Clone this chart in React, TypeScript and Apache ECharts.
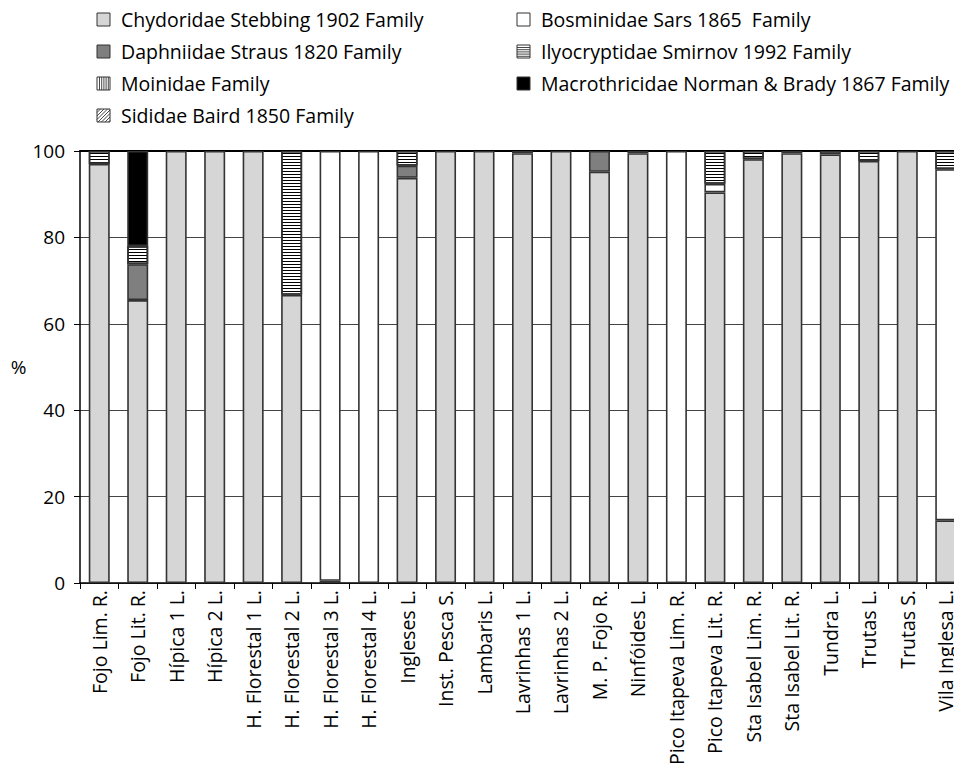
import React, { useEffect, useRef } from "react";
import * as echarts from "echarts";

const FONT = '"Open Sans", "Noto Sans", sans-serif';

const categories = [
  "Fojo Lim. R.",
  "Fojo Lit. R.",
  "Hípica 1 L.",
  "Hípica 2 L.",
  "H. Florestal 1 L.",
  "H. Florestal 2 L.",
  "H. Florestal 3 L.",
  "H. Florestal 4 L.",
  "Ingleses L.",
  "Inst. Pesca S.",
  "Lambaris L.",
  "Lavrinhas 1 L.",
  "Lavrinhas 2 L.",
  "M. P. Fojo R.",
  "Ninfóides L.",
  "Pico Itapeva Lim. R.",
  "Pico Itapeva Lit. R.",
  "Sta Isabel Lim. R.",
  "Sta Isabel Lit. R.",
  "Tundra L.",
  "Trutas L.",
  "Trutas S.",
  "Vila Inglesa L.",
];

const chydoridae = [97, 65.5, 100, 100, 100, 66.7, 0.5, 0, 93.8, 100, 100, 99.5, 100, 95.2, 99.5, 0, 90.4, 98.1, 99.5, 99.2, 97.7, 100, 14.5];
const bosminidae = [0, 0, 0, 0, 0, 0, 99.5, 100, 0, 0, 0, 0, 0, 0, 0, 100, 2.0, 0, 0, 0, 0, 0, 81.3];
const daphniidae = [0, 8.3, 0, 0, 0, 0, 0, 0, 2.8, 0, 0, 0.5, 0, 4.8, 0.5, 0, 0, 0, 0.5, 0.8, 0, 0, 0];
const ilyocryptidae = [3, 4.2, 0, 0, 0, 33.3, 0, 0, 3.4, 0, 0, 0, 0, 0, 0, 0, 7.6, 1.9, 0, 0, 2.3, 0, 4.2];
const moinidae = [0, 0, 0, 0, 0, 0, 0, 0, 0, 0, 0, 0, 0, 0, 0, 0, 0, 0, 0, 0, 0, 0, 0];
const macrothricidae = [0, 22, 0, 0, 0, 0, 0, 0, 0, 0, 0, 0, 0, 0, 0, 0, 0, 0, 0, 0, 0, 0, 0];
const sididae = [0, 0, 0, 0, 0, 0, 0, 0, 0, 0, 0, 0, 0, 0, 0, 0, 0, 0, 0, 0, 0, 0, 0];

const yTicks = { min: 0, max: 100, interval: 20 };

type Pattern = "none" | "h" | "v" | "d";

const families: { name: string; values: number[]; color: string; pattern: Pattern; col: number; row: number }[] = [
  { name: "Chydoridae Stebbing 1902 Family", values: chydoridae, color: "#d6d6d6", pattern: "none", col: 0, row: 0 },
  { name: "Bosminidae Sars 1865  Family", values: bosminidae, color: "#ffffff", pattern: "none", col: 1, row: 0 },
  { name: "Daphniidae Straus 1820 Family", values: daphniidae, color: "#7f7f7f", pattern: "none", col: 0, row: 1 },
  { name: "Ilyocryptidae Smirnov 1992 Family", values: ilyocryptidae, color: "#ffffff", pattern: "h", col: 1, row: 1 },
  { name: "Moinidae Family", values: moinidae, color: "#ffffff", pattern: "v", col: 0, row: 2 },
  { name: "Macrothricidae Norman & Brady 1867 Family", values: macrothricidae, color: "#000000", pattern: "none", col: 1, row: 2 },
  { name: "Sididae Baird 1850 Family", values: sididae, color: "#ffffff", pattern: "d", col: 0, row: 3 },
];

function decalFor(p: Pattern): any {
  if (p === "none") return undefined;
  const base = { symbol: "rect", symbolSize: 1, dashArrayX: [1, 0], dashArrayY: [1, 2], color: "#000" } as any;
  if (p === "v") base.rotation = Math.PI / 2;
  if (p === "d") base.rotation = Math.PI / 4;
  return base;
}

function legendGraphics(): any[] {
  const out: any[] = [];
  const iconX = [97, 517];
  const textX = [121, 541];
  const rowY = [19.5, 51.5, 83.5, 115.5];
  const S = 13;
  families.forEach((f) => {
    const x0 = iconX[f.col];
    const cy = rowY[f.row];
    const y0 = cy - S / 2;
    out.push({
      type: "rect",
      shape: { x: x0, y: y0, width: S, height: S },
      style: { fill: f.color, stroke: "#333", lineWidth: 1 },
    });
    if (f.pattern === "h") {
      for (let k = 2.5; k < S; k += 2.2) {
        out.push({ type: "line", shape: { x1: x0, y1: y0 + k, x2: x0 + S, y2: y0 + k }, style: { stroke: "#333", lineWidth: 0.9 } });
      }
    } else if (f.pattern === "v") {
      for (let k = 2.5; k < S; k += 2.2) {
        out.push({ type: "line", shape: { x1: x0 + k, y1: y0, x2: x0 + k, y2: y0 + S }, style: { stroke: "#333", lineWidth: 0.9 } });
      }
    } else if (f.pattern === "d") {
      for (let c = 3.5; c < 2 * S; c += 3.5) {
        const xa = Math.max(0, c - S);
        const xb = Math.min(S, c);
        out.push({
          type: "line",
          shape: { x1: x0 + xa, y1: y0 + (c - xa), x2: x0 + xb, y2: y0 + (c - xb) },
          style: { stroke: "#333", lineWidth: 0.9 },
        });
      }
    }
    out.push({
      type: "text",
      x: textX[f.col],
      y: cy,
      style: { text: f.name, font: `19.5px ${FONT}`, fill: "#000", textVerticalAlign: "middle", textAlign: "left" },
    });
  });
  return out;
}

export default function App() {
  const ref = useRef<HTMLDivElement>(null);
  useEffect(() => {
    if (!ref.current) return;
    const chart = echarts.init(ref.current, undefined, { renderer: "svg" });
    const option: any = {
      animation: false,
      backgroundColor: "#fff",
      textStyle: { fontFamily: FONT },
      grid: { left: 80, right: 15, top: 151, bottom: 186, containLabel: false, outerBoundsMode: "none" },
      xAxis: [
        {
          type: "category",
          data: categories,
          axisLine: { show: true, lineStyle: { color: "#000", width: 1.5 } },
          axisTick: { show: true, length: 6, alignWithLabel: false, lineStyle: { color: "#000", width: 1 } },
          axisLabel: { rotate: 90, interval: 0, fontSize: 19.5, color: "#000", fontFamily: FONT, margin: 7 },
          splitLine: { show: false },
        },
        {
          type: "category",
          position: "top",
          data: categories,
          axisLine: { show: true, lineStyle: { color: "#000", width: 2 } },
          axisTick: { show: false },
          axisLabel: { show: false },
          splitLine: { show: false },
        },
      ],
      yAxis: {
        type: "value",
        min: yTicks.min,
        max: yTicks.max,
        interval: yTicks.interval,
        name: "%",
        nameLocation: "middle",
        nameRotate: 0,
        nameGap: 52,
        nameTextStyle: { fontSize: 19, color: "#000", fontFamily: FONT },
        axisLine: { show: true, lineStyle: { color: "#000", width: 1.5 } },
        axisTick: { show: true, length: 6, lineStyle: { color: "#000", width: 1 } },
        axisLabel: { fontSize: 19, color: "#000", fontFamily: FONT, margin: 15 },
        splitLine: { show: true, lineStyle: { color: "#444", width: 1 } },
      },
      series: families.map((f) => ({
        name: f.name,
        type: "bar",
        stack: "total",
        xAxisIndex: 0,
        barWidth: 21,
        data: f.values.map((v) => (v === 0 ? null : v)),
        itemStyle: { color: f.color, borderColor: "#333", borderWidth: 1.6, decal: decalFor(f.pattern) },
        emphasis: { disabled: true },
      })),
      graphic: legendGraphics(),
    };
    chart.setOption(option);
    return () => chart.dispose();
  }, []);
  return (
    <div style={{ position: "absolute", left: 0, top: 0, width: 954, height: 769, overflow: "hidden", background: "#fff" }}>
      <div ref={ref} style={{ width: 980, height: 769 }} />
    </div>
  );
}
